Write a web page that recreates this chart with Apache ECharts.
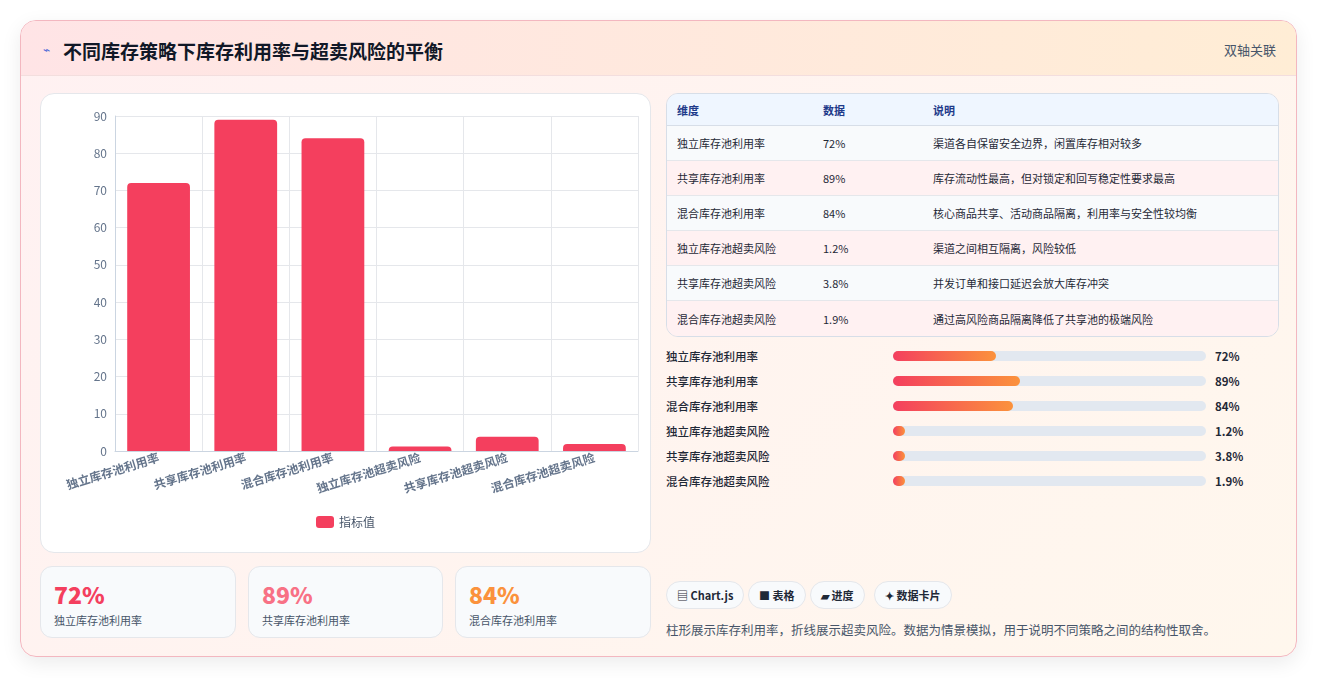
<!DOCTYPE html><html><head><meta charset="utf-8">
<script src="https://cdn.jsdelivr.net/npm/echarts@6/dist/echarts.min.js"></script>
<style>
*{box-sizing:border-box;margin:0;padding:0}
body{width:1318px;height:678px;background:#fff;font-family:"Noto Sans CJK SC","Noto Sans",sans-serif;position:relative;overflow:hidden}
.outer{position:absolute;left:20px;top:20px;width:1277px;height:637px;border:1px solid #f3b7c0;border-radius:16px;background:linear-gradient(135deg,#fff1f2,#fff7ed);box-shadow:0 6px 20px rgba(0,0,0,0.08);overflow:hidden}
.head{position:absolute;left:0;top:0;width:100%;height:55px;border-bottom:1px solid #f3dede;background:linear-gradient(90deg,#ffe4e6,#ffedd5)}
.title{position:absolute;left:42px;top:16px;font-size:19px;font-weight:700;color:#111827}
.ico{position:absolute;left:22px;top:19px;font-size:12px;color:#4f6bd8}
.tag{position:absolute;right:20px;top:19px;font-size:13px;color:#475569}
.card{position:absolute;background:#fff;border:1px solid #e5e7eb;border-radius:14px}
#chart{position:absolute;left:40px;top:93px;width:611px;height:460px}
.stat{position:absolute;top:566px;height:72px;background:#f8fafc;border:1px solid #e5e7eb;border-radius:12px}
.stat b{position:absolute;left:13px;top:10px;font-size:23px;font-weight:800}
.stat span{position:absolute;left:13px;top:45px;font-size:11px;color:#475569}
table{position:absolute;left:666px;top:93px;width:613px;border-collapse:separate;border-spacing:0;border:1px solid #d7dee8;border-radius:12px;overflow:hidden;font-size:11px;color:#1f2937}
th{background:#eff6ff;color:#1e3a8a;text-align:left;font-weight:600;height:32px;padding-left:10px;border-bottom:1px solid #d7dee8}
td{height:35px;padding-left:10px;border-bottom:1px solid #e5e7eb}
tr:nth-child(odd) td{background:#fff1f2}
tr:nth-child(even) td{background:#f8fafc}
tr:last-child td{border-bottom:none}
.pl{position:absolute;left:666px;font-size:11.5px;color:#1f2937;font-weight:500}
.pt{position:absolute;left:893px;width:313px;height:10px;border-radius:5px;background:#e2e8f0}
.pf{height:10px;border-radius:5px;background:linear-gradient(90deg,#f43f5e,#fb923c)}
.pv{position:absolute;left:1215px;font-size:11.5px;font-weight:700;color:#1f2937}
.btn{position:absolute;top:581px;height:28px;border:1px solid #e5e7eb;border-radius:14px;background:#f8fafc;font-size:11px;font-weight:700;color:#1f2937;line-height:26px;padding:0 10px}
.note{position:absolute;left:666px;top:620px;font-size:12.5px;color:#475569}
</style></head><body>
<div class="outer"><div class="head"><span class="ico">⌁</span><span class="title">不同库存策略下库存利用率与超卖风险的平衡</span><span class="tag">双轴关联</span></div></div>
<div class="card" style="left:40px;top:93px;width:611px;height:460px"></div>
<div id="chart"></div>
<div id="stats"></div>
<table id="tbl"></table>
<div id="prog"></div>
<div class="btn" style="left:666px">▤ Chart.js</div>
<div class="btn" style="left:748px">■ 表格</div>
<div class="btn" style="left:810px">▰ 进度</div>
<div class="btn" style="left:874px">✦ 数据卡片</div>
<div class="note">柱形展示库存利用率，折线展示超卖风险。数据为情景模拟，用于说明不同策略之间的结构性取舍。</div>
<script>
const categories=["独立库存池利用率","共享库存池利用率","混合库存池利用率","独立库存池超卖风险","共享库存池超卖风险","混合库存池超卖风险"];
const values=[72,89,84,1.2,3.8,1.9];
const valueLabels=["72%","89%","84%","1.2%","3.8%","1.9%"];
const notes=["渠道各自保留安全边界，闲置库存相对较多","库存流动性最高，但对锁定和回写稳定性要求最高","核心商品共享、活动商品隔离，利用率与安全性较均衡","渠道之间相互隔离，风险较低","并发订单和接口延迟会放大库存冲突","通过高风险商品隔离降低了共享池的极端风险"];
const yTicks=[0,10,20,30,40,50,60,70,80,90];
const statColors=["#f43f5e","#f87185","#fb923c"];

let h='<tr><th style="width:146px">维度</th><th style="width:110px">数据</th><th>说明</th></tr>';
categories.forEach((c,i)=>{h+=`<tr><td>${c}</td><td>${valueLabels[i]}</td><td>${notes[i]}</td></tr>`});
document.getElementById('tbl').innerHTML=h;
let p='';
categories.forEach((c,i)=>{const y=348+i*24.9;const w=Math.max(values[i]/219*313,12);
p+=`<div class="pl" style="top:${y}px">${c}</div><div class="pt" style="top:${y+3}px"><div class="pf" style="width:${w}px"></div></div><div class="pv" style="top:${y}px">${valueLabels[i]}</div>`});
document.getElementById('prog').innerHTML=p;
let s='';const sl=[40,248,455],sw=[196,195,196];
for(let i=0;i<3;i++)s+=`<div class="stat" style="left:${sl[i]}px;width:${sw[i]}px"><b style="color:${statColors[i]}">${valueLabels[i]}</b><span>${categories[i]}</span></div>`;
document.getElementById('stats').innerHTML=s;

const ch=echarts.init(document.getElementById('chart'));
ch.setOption({
 textStyle:{fontFamily:"Noto Sans CJK SC"},
 grid:{left:75,right:13,top:23,bottom:102,containLabel:false},
 legend:{bottom:20,itemWidth:18,itemHeight:12,textStyle:{color:'#475569',fontSize:12},data:['指标值']},
 xAxis:{type:'category',data:categories,axisTick:{show:false},axisLine:{lineStyle:{color:'#cbd5e1'}},
  splitLine:{show:true,lineStyle:{color:'#e5e7eb'}},
  axisLabel:{rotate:17,color:'#64748b',fontWeight:'bold',fontSize:12,margin:6,interval:0}},
 yAxis:{type:'value',min:0,max:90,interval:10,axisLine:{show:true,lineStyle:{color:'#cbd5e1'}},
  axisLabel:{color:'#64748b',fontSize:12},splitLine:{lineStyle:{color:'#e5e7eb'}}},
 series:[{name:'指标值',type:'bar',data:values,barWidth:'72%',itemStyle:{color:'#f43f5e',borderRadius:[4,4,0,0]}}]
});
</script></body></html>
